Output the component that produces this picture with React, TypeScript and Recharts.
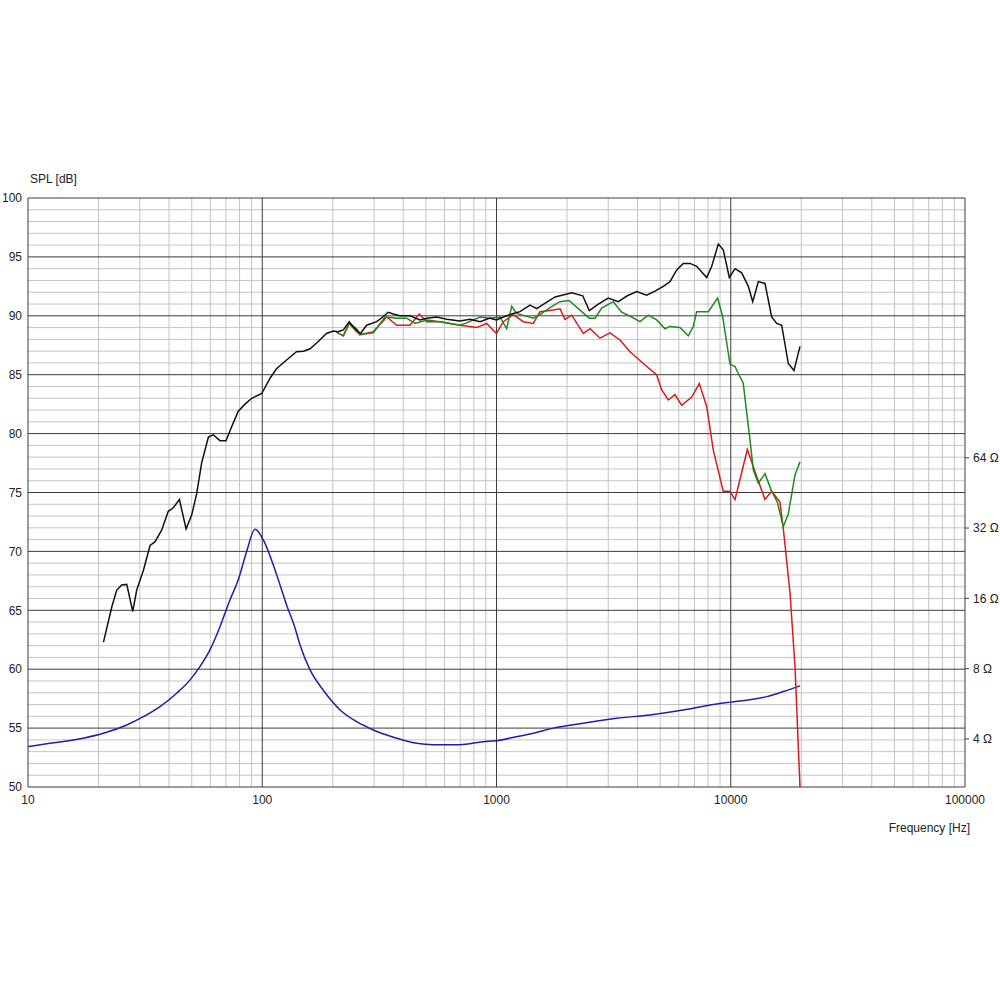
import { LineChart, Line, XAxis, YAxis, ReferenceLine } from "recharts";

// frequency [Hz], SPL [dB]
const onAxis: [number, number][] = [
  [21, 62.3], [22.8, 65.3], [23.9, 66.7], [25.1, 67.15], [26.4, 67.2], [28, 64.9],
  [29.1, 66.7], [31.1, 68.4], [33.2, 70.5], [34.8, 70.8], [37.2, 71.8], [39.7, 73.4],
  [41.7, 73.7], [44.3, 74.4], [47.3, 71.9], [50, 73.1], [52.5, 74.9], [55.1, 77.5],
  [58.9, 79.7], [61.8, 79.9], [66, 79.4], [70, 79.4], [74.1, 80.6], [79, 81.9],
  [84.4, 82.5], [90.2, 83.0], [99.5, 83.4], [108, 84.7], [115, 85.5], [127, 86.25],
  [140, 86.95], [150, 87.0], [160, 87.2], [173, 87.8], [188, 88.5], [201, 88.7],
  [211, 88.65], [222, 88.8], [235, 89.5], [249, 88.9], [263, 88.5], [279, 89.2],
  [308, 89.5], [327, 89.9], [345, 90.3], [363, 90.15], [387, 90.0], [427, 90.0],
  [471, 89.65], [504, 89.8], [556, 89.9], [613, 89.7], [698, 89.55], [771, 89.7],
  [851, 89.5], [938, 89.8], [1000, 89.65], [1069, 89.9], [1180, 90.2], [1260, 90.35],
  [1390, 90.9], [1485, 90.6], [1620, 91.1], [1780, 91.6], [2094, 91.95], [2334, 91.7],
  [2490, 90.45], [2720, 91.0], [3000, 91.5], [3311, 91.2], [3618, 91.7], [3967, 92.05],
  [4377, 91.75], [4750, 92.1], [5152, 92.5], [5504, 92.9], [5880, 93.9], [6272, 94.45],
  [6699, 94.45], [7154, 94.2], [7896, 93.25], [8294, 94.2], [8849, 96.1], [9290, 95.6],
  [9860, 93.25], [10430, 94.0], [11135, 93.65], [11885, 92.5], [12410, 91.2],
  [13115, 92.9], [14000, 92.75], [14950, 89.9], [15710, 89.35], [16500, 89.2],
  [17610, 85.95], [18620, 85.35], [19750, 87.4],
];

const offAxis30: [number, number][] = [
  [208, 88.6], [222, 88.3], [235, 89.35], [253, 88.9], [261, 88.4], [298, 88.55],
  [334, 89.9], [375, 89.8], [414, 89.8], [449, 89.35], [504, 89.65], [574, 89.5],
  [698, 89.2], [746, 89.4], [851, 89.9], [938, 89.8], [1035, 89.9], [1105, 88.9],
  [1161, 90.8], [1219, 90.2], [1436, 89.8], [1533, 90.1], [1692, 90.7], [1866, 91.2],
  [2040, 91.3], [2311, 90.35], [2490, 89.8], [2634, 89.8], [2812, 90.65], [3152, 91.2],
  [3422, 90.3], [3776, 89.9], [4099, 89.5], [4446, 90.05], [4830, 89.65], [5240, 88.9],
  [5504, 89.1], [6072, 89.0], [6589, 88.3], [6922, 89.1], [7154, 90.35], [8021, 90.35],
  [8796, 91.5], [9240, 89.9], [9926, 85.9], [10430, 85.7], [10770, 85.1], [11300, 84.3],
  [12085, 79.45], [12485, 76.9], [13115, 75.8], [14000, 76.6], [14950, 75.1],
  [15800, 74.2], [16760, 72.1], [17610, 73.2], [18810, 76.5], [19750, 77.6],
];

const offAxis60: [number, number][] = [
  [208, 88.6], [222, 88.3], [235, 89.35], [253, 88.65], [261, 88.4], [298, 88.65],
  [340, 89.9], [375, 89.2], [427, 89.2], [468, 90.15], [504, 89.5], [574, 89.5],
  [698, 89.2], [823, 89.0], [908, 89.35], [1000, 88.5], [1069, 89.5], [1180, 90.1],
  [1301, 89.5], [1436, 89.35], [1533, 90.35], [1748, 90.5], [1866, 90.6], [1961, 89.7],
  [2094, 90.05], [2348, 88.5], [2510, 88.9], [2765, 88.1], [3051, 88.55], [3367, 87.95],
  [3714, 86.95], [4234, 85.95], [4830, 84.97], [5073, 83.7], [5413, 82.85], [5781, 83.3],
  [6174, 82.4], [6812, 83.1], [7341, 84.25], [7896, 82.3], [8424, 78.6], [9290, 75.1],
  [9926, 75.1], [10430, 74.4], [11770, 78.65], [12910, 76.35], [14000, 74.4],
  [14950, 75.1], [16220, 74.2], [16760, 71.95], [17910, 66.45], [18810, 60.2],
  [19750, 50.0],
];

// frequency [Hz], impedance [ohm]
const impedance: [number, number][] = [
  [10, 3.71], [12.4, 3.83], [17.2, 4.03], [21, 4.23], [26.4, 4.59], [31.1, 4.98],
  [36.6, 5.5], [43.1, 6.28], [49.2, 7.16], [54.2, 8.16], [59.8, 9.62], [66, 12.1],
  [72.8, 15.75], [79, 19.2], [85.8, 25.4], [93.1, 31.6], [101, 28.5], [115, 20.3],
  [127, 15.0], [138, 11.95], [145, 10.1], [160, 7.9], [182, 6.48], [215, 5.32],
  [253, 4.74], [298, 4.37], [363, 4.07], [456, 3.83], [537, 3.78], [698, 3.78],
  [878, 3.89], [1000, 3.93], [1219, 4.09], [1436, 4.23], [1748, 4.45], [2348, 4.67],
  [3260, 4.9], [4520, 5.07], [6272, 5.32], [8710, 5.65], [10000, 5.75], [12080, 5.88],
  [14240, 6.07], [16760, 6.38], [19750, 6.75],
];

const freqTicks = [10, 100, 1000, 10000, 100000];
const splTicks = [50, 55, 60, 65, 70, 75, 80, 85, 90, 95, 100];
const ohmTicks = [4, 8, 16, 32, 64];

// grid helpers
const minorFreqs: number[] = [];
[10, 100, 1000, 10000].forEach((d) => {
  for (let k = 2; k <= 9; k++) minorFreqs.push(d * k);
});
const minorSpl: number[] = [];
for (let v = 51; v < 100; v++) if (v % 5 !== 0) minorSpl.push(v);

const toPts = (arr: [number, number][]) => arr.map(([f, v]) => ({ f, v }));

const MINOR = "#c4c4c4";
const MAJOR = "#3c3c3c";
const TEXT = "#222";

const App = () => {
  return (
    <div
      style={{
        position: "absolute",
        left: 0,
        top: 0,
        width: 1000,
        height: 1000,
        background: "#fff",
        fontFamily: '"Liberation Sans", Arial, sans-serif',
      }}
    >
      <div
        style={{
          position: "absolute",
          left: 30,
          top: 172,
          fontSize: 12,
          lineHeight: "14px",
          color: TEXT,
        }}
      >
        SPL [dB]
      </div>
      <LineChart
        width={1000}
        height={1000}
        margin={{ top: 198, right: 0, bottom: 173, left: 0 }}
      >
        <XAxis
          dataKey="f"
          type="number"
          scale="log"
          domain={[10, 100000]}
          ticks={freqTicks}
          allowDataOverflow
          axisLine={false}
          tickLine={false}
          height={40}
          tick={{ fill: TEXT, fontSize: 12 }}
          label={{
            value: "Frequency [Hz]",
            position: "insideBottomRight",
            offset: -5,
            fill: TEXT,
            fontSize: 12,
          }}
        />
        <YAxis
          yAxisId="spl"
          type="number"
          domain={[50, 100]}
          ticks={splTicks}
          allowDataOverflow
          axisLine={false}
          tickLine={false}
          tickMargin={0}
          width={28}
          tick={{ fill: TEXT, fontSize: 12 }}
        />
        <YAxis
          yAxisId="imp"
          orientation="right"
          type="number"
          scale="log"
          domain={[2.49, 829]}
          ticks={ohmTicks}
          allowDataOverflow
          axisLine={false}
          tickSize={4}
          tickMargin={4}
          tickLine={{ stroke: MAJOR }}
          width={35}
          tick={{ fill: TEXT, fontSize: 12 }}
          tickFormatter={(v: number) => `${v} Ω`}
        />

        {minorSpl.map((v) => (
          <ReferenceLine key={`hs${v}`} yAxisId="spl" y={v} stroke={MINOR} />
        ))}
        {minorFreqs.map((f) => (
          <ReferenceLine key={`vf${f}`} yAxisId="spl" x={f} stroke={MINOR} />
        ))}
        {splTicks.map((v) => (
          <ReferenceLine key={`HS${v}`} yAxisId="spl" y={v} stroke={MAJOR} />
        ))}
        {freqTicks.map((f) => (
          <ReferenceLine key={`VF${f}`} yAxisId="spl" x={f} stroke={MAJOR} />
        ))}

        <Line
          yAxisId="imp"
          data={toPts(impedance)}
          dataKey="v"
          type="monotone"
          stroke="#1f1fa8"
          strokeWidth={1.5}
          dot={false}
          isAnimationActive={false}
        />
        <Line
          yAxisId="spl"
          data={toPts(offAxis60)}
          dataKey="v"
          type="linear"
          stroke="#d81c1c"
          strokeWidth={1.5}
          dot={false}
          isAnimationActive={false}
        />
        <Line
          yAxisId="spl"
          data={toPts(offAxis30)}
          dataKey="v"
          type="linear"
          stroke="#1e8a1e"
          strokeWidth={1.5}
          dot={false}
          isAnimationActive={false}
        />
        <Line
          yAxisId="spl"
          data={toPts(onAxis)}
          dataKey="v"
          type="linear"
          stroke="#111"
          strokeWidth={1.5}
          dot={false}
          isAnimationActive={false}
        />
      </LineChart>
    </div>
  );
};

export default App;
